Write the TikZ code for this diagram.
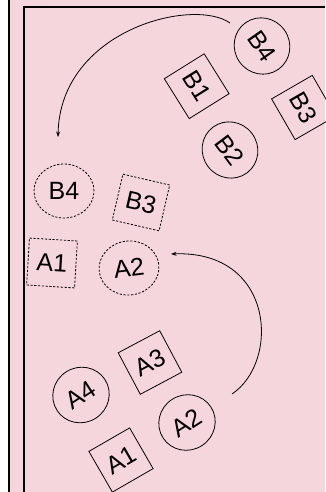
\documentclass[tikz,border=0pt]{standalone}
\usepackage{fontspec}
\setmainfont{Liberation Sans}
\usetikzlibrary{arrows.meta,shapes.geometric}
\definecolor{bgpink}{RGB}{246,214,221}
\tikzset{
  lbl/.style={font=\fontsize{25}{25}\selectfont, inner sep=0pt, text=black},
  solidcirc/.style={lbl, draw, line width=0.8pt, ellipse, minimum width=57pt, minimum height=55pt},
  dashcirc/.style={lbl, draw, line width=0.8pt, dashed, dash pattern=on 2.2pt off 1.6pt, ellipse, minimum width=60pt, minimum height=54pt},
  solidsq/.style={lbl, draw, line width=0.8pt, rectangle, minimum width=47pt, minimum height=47pt},
  dashsq/.style={lbl, draw, line width=0.8pt, rectangle, dash pattern=on 2.2pt off 1.6pt, minimum width=48pt, minimum height=47pt},
  conn/.style={line width=0.8pt, -{Stealth[length=5.5pt,width=4pt]}},
  frame/.style={line width=2pt, black}
}
\begin{document}
\begin{tikzpicture}[x=1pt,y=-1pt]
\useasboundingbox (0,0) rectangle (325,492);
\fill[white] (0,0) rectangle (9,492);
\fill[bgpink] (9,0) rectangle (325,492);
\draw[frame] (9.2,0) -- (9.2,492);
\draw[frame] (23.8,492) -- (23.8,6.7) -- (325,6.7);

% B group (top right)
\node[solidcirc, rotate=-55] (b4) at (262,46) {B4};
\node[solidsq, rotate=-58] (b1) at (196.7,86.2) {B1};
\node[solidsq, rotate=-60] (b3) at (303.7,107.5) {B3};
\node[solidcirc, rotate=-53] (b2) at (230,150) {B2};

% dashed targets
\node[dashcirc] (b4d) at (64,191) {B4};
\node[dashsq, rotate=-13] (b3d) at (141,202.5) {B3};
\node[dashsq, rotate=-3.5] (a1d) at (52,263) {A1};
\node[dashcirc, rotate=7] (a2d) at (129,268) {A2};

% A group (bottom)
\node[solidsq, rotate=28] (a3) at (150,362.5) {A3};
\node[solidcirc, rotate=33] (a4) at (81,395) {A4};
\node[solidcirc, rotate=33] (a2) at (187,422.5) {A2};
\node[solidsq, rotate=30] (a1) at (121,460) {A1};

% connectors
\coordinate (s1) at (230,23);
\coordinate (e1) at (58,137);
\coordinate (s2) at (232,394);
\coordinate (e2) at (171,254);
\draw[conn] (s1) .. controls (193,-3) and (60,30) .. (e1);
\draw[conn] (s2) .. controls (280,362) and (275,250) .. (e2);
\end{tikzpicture}
\end{document}
